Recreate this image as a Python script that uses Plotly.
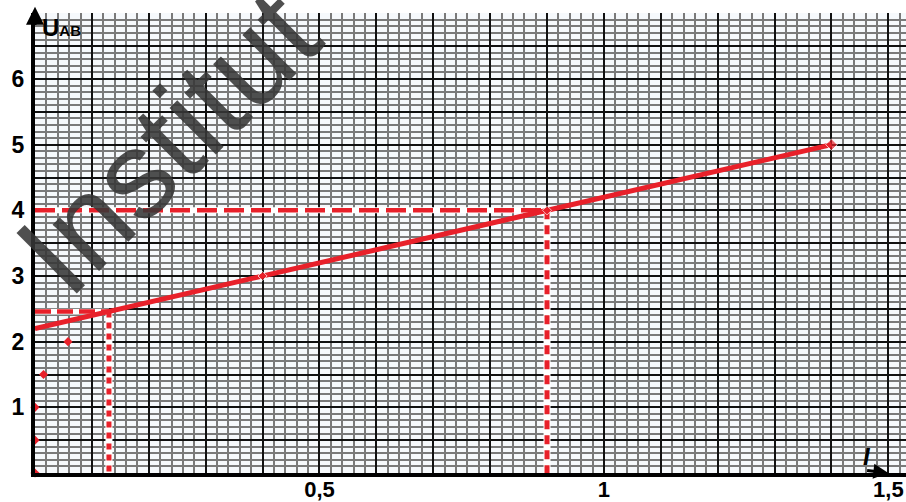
import plotly.graph_objects as go

# fitted line U_AB = f(I)
I_fit = [0, 0.4, 0.9, 1.4]
U_fit = [2.2, 3.0, 4.0, 5.0]

# small points sitting near the U axis
I_low = [0, 0, 0, 0.015, 0.058]
U_low = [0, 0.5, 1.0, 1.5, 2.0]

# read-off points (projections)
I_read = [0.13, 0.9]
U_read = [2.46, 4.0]

x_ticks = [round(i * 0.1, 1) for i in range(16)]
x_text = {0.5: "0,5", 1.0: "1", 1.5: "1,5"}
y_ticks = [i * 0.5 for i in range(15)]
y_text = {1.0: "1", 2.0: "2", 3.0: "3", 4.0: "4", 5.0: "5", 6.0: "6"}

RED = "#e8202a"

fig = go.Figure()

# projection lines: white backing first, then red dashes
for xi, yi, hdash, vdash in zip(I_read, U_read, ["16px,6px", "20px,7px"], ["6px,5px", "9px,6px"]):
    fig.add_trace(go.Scatter(x=[0, xi], y=[yi, yi], mode="lines",
                             line=dict(color="white", width=6), hoverinfo="skip"))
    fig.add_trace(go.Scatter(x=[xi, xi], y=[yi, 0], mode="lines",
                             line=dict(color="white", width=7), hoverinfo="skip"))
    fig.add_trace(go.Scatter(x=[0, xi], y=[yi, yi], mode="lines",
                             line=dict(color=RED, width=4.5, dash=hdash), hoverinfo="skip"))
    fig.add_trace(go.Scatter(x=[xi, xi], y=[yi, 0], mode="lines",
                             line=dict(color=RED, width=5, dash=vdash), hoverinfo="skip"))

fig.add_trace(go.Scatter(x=I_fit, y=U_fit, mode="lines+markers",
                         line=dict(color=RED, width=5),
                         marker=dict(color=RED, size=[0, 7, 7, 9], symbol="diamond"),
                         cliponaxis=False))
fig.add_trace(go.Scatter(x=I_low, y=U_low, mode="markers",
                         marker=dict(color=RED, size=7, symbol="diamond"),
                         cliponaxis=False))

fig.update_xaxes(
    range=[0, 1.531], tickmode="array", tickvals=x_ticks,
    ticktext=[x_text.get(v, "") for v in x_ticks],
    tickfont=dict(family="Liberation Sans", size=22, color="black", weight="bold"),
    ticks="", ticklabelstandoff=-6, automargin=False,
    showgrid=True, gridcolor="#111111", gridwidth=1.8,
    minor=dict(tickmode="linear", tick0=0, dtick=0.02, showgrid=True,
               gridcolor="#7a7a7a", gridwidth=1.6),
    showline=True, linecolor="black", linewidth=4, zeroline=False,
    fixedrange=True,
)
fig.update_yaxes(
    range=[0, 7.005], tickmode="array", tickvals=y_ticks,
    ticktext=[y_text.get(v, "") for v in y_ticks],
    tickfont=dict(family="Liberation Sans", size=23, color="black", weight="bold"),
    ticks="", ticklabelstandoff=2, automargin=False,
    showgrid=True, gridcolor="#111111", gridwidth=1.8,
    minor=dict(tickmode="linear", tick0=0, dtick=0.1, showgrid=True,
               gridcolor="#7a7a7a", gridwidth=1.5),
    showline=True, linecolor="black", linewidth=4, zeroline=False,
    fixedrange=True,
)

# axis arrows and names
fig.add_annotation(x=0, y=7.1, ax=0, ay=6.8, xref="x", yref="y", axref="x", ayref="y",
                   showarrow=True, arrowhead=2, arrowsize=1.2, arrowwidth=3, arrowcolor="black", text="")
fig.add_annotation(x=1.5, y=0, ax=1.46, ay=0.04, xref="x", yref="y", axref="x", ayref="y",
                   showarrow=True, arrowhead=2, arrowsize=1, arrowwidth=3, arrowcolor="black", text="")
fig.add_annotation(x=0.008, y=6.78, xref="x", yref="y", xanchor="left", yanchor="middle",
                   showarrow=False, text="<b>U<span style='font-size:15px'>AB</span></b>",
                   font=dict(family="Liberation Sans", size=24, color="black"))
fig.add_annotation(x=1.462, y=0.25, xref="x", yref="y", showarrow=False,
                   text="<b><i>I</i></b>", font=dict(family="Liberation Sans", size=24, color="black"))

# watermark
fig.add_annotation(x=0.152, y=0.719, xref="paper", yref="paper", showarrow=False,
                   text="Institut", textangle=-45, xanchor="center", yanchor="middle",
                   font=dict(family="Liberation Sans", size=124, color="rgba(55,55,55,0.88)"))

fig.update_layout(
    width=906, height=502,
    margin=dict(l=35, r=0, t=13, b=29),
    paper_bgcolor="white", plot_bgcolor="#f6f9fc",
    showlegend=False,
)

# drop the browser's default body margin so the figure sits at the page corner
fig.write_html("out.html", config={"displayModeBar": False},
               post_script="document.body.style.margin='0';")
